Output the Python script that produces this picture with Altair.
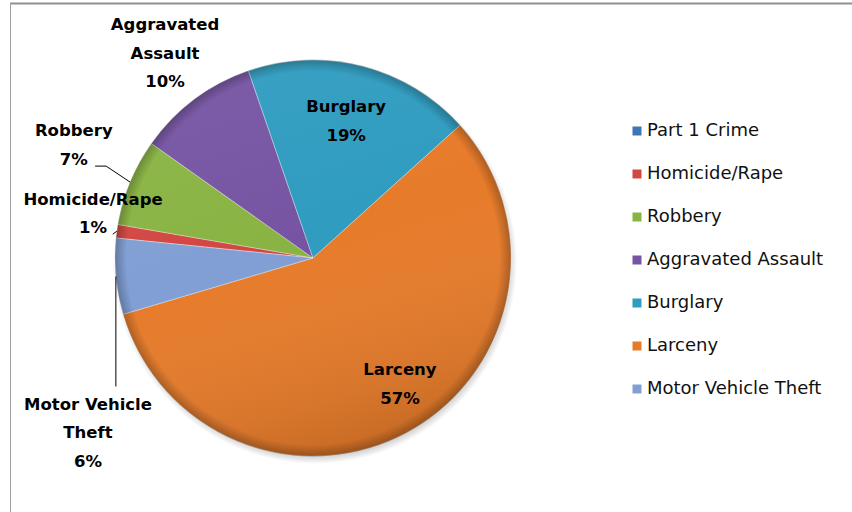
import math
import altair as alt
import pandas as pd

# ---- data ----
CATEGORIES = ["Part 1 Crime", "Homicide/Rape", "Robbery", "Aggravated Assault",
              "Burglary", "Larceny", "Motor Vehicle Theft"]
SHARES = [0.0, 1.1, 7.1, 9.9, 18.6, 57.1, 6.2]          # percent of total
LABEL_TEXT = ["Part 1 Crime", "Homicide/Rape", "Robbery", "Aggravated|Assault",
              "Burglary", "Larceny", "Motor Vehicle|Theft"]
COLORS = ["#3F74B9", "#D34743", "#89B443", "#7654A3", "#2F9CC0", "#E67B2A", "#819FD4"]

df = pd.DataFrame({"category": CATEGORIES, "value": SHARES, "disp": LABEL_TEXT,
                   "idx": list(range(len(CATEGORIES)))})

TOTAL = sum(SHARES)
W, H = 852, 512
CX, CY, R = 313, 258, 198
START = math.radians(275.8)
LH = 28.5
theta_scale = alt.Scale(domain=[0, TOTAL], range=[START, START + 2 * math.pi])

# label placement styles: radius, dx, dy (of the block centre)
LABEL_PLACE = {
    "Homicide/Rape": (222, 0, -14),
    "Robbery": (259, 0, -13),
    "Aggravated Assault": (255, 5, 0),
    "Burglary": (141, -2, 0),
    "Larceny": (145, 16, 0),
    "Motor Vehicle Theft": (226, 0, 154),
}
# leader line segments relative to the slice's outer edge midpoint
LEADERS = {
    "Robbery": [(0, 0, -24, -16), (-24, -16, -35, -16)],
    "Homicide/Rape": [(0, 0, -4, 3)],
    "Motor Vehicle Theft": [(0, 0, 0, 110)],
}

base = alt.Chart(df)


def with_angles(ch):
    return (ch.transform_window(cum="sum(value)", sort=[alt.SortField("idx")])
              .transform_joinaggregate(total="sum(value)")
              .transform_calculate(mid="datum.cum - datum.value/2")
              .transform_calculate(ang=f"{START} + 2*PI*datum.mid/{TOTAL}")
              .transform_calculate(ex=f"{CX} + {R}*sin(datum.ang)",
                                   ey=f"{CY} - {R}*cos(datum.ang)"))


shadow = base.transform_aggregate(total="sum(value)").mark_arc(
    outerRadius=R + 4,
    fill=alt.RadialGradient(gradient="radial", x1=0.5, y1=0.5, x2=0.5, y2=0.5, r1=0, r2=0.5,
                            stops=[alt.GradientStop(offset=0, color="rgba(0,0,0,0.3)"),
                                   alt.GradientStop(offset=0.95, color="rgba(0,0,0,0.22)"),
                                   alt.GradientStop(offset=1, color="rgba(0,0,0,0)")]),
).encode(theta=alt.Theta("total:Q", scale=theta_scale), x=alt.value(CX + 2), y=alt.value(CY + 4))

pie = base.mark_arc(outerRadius=R, stroke="#ffffff", strokeOpacity=0.35, strokeWidth=1).encode(
    theta=alt.Theta("value:Q", stack=True, scale=theta_scale),
    order=alt.Order("idx:Q", sort="ascending"),
    color=alt.Color("category:N", sort=CATEGORIES,
                    scale=alt.Scale(domain=CATEGORIES, range=COLORS),
                    legend=alt.Legend(title=None, orient="none", legendX=628, legendY=122,
                                      symbolType="square", symbolSize=81, symbolStrokeWidth=0,
                                      labelFont="DejaVu Sans", labelFontSize=18, labelColor="#111111",
                                      labelOffset=1, rowPadding=25, padding=0, labelLimit=300)),
    x=alt.value(CX), y=alt.value(CY),
)

shade = base.transform_aggregate(total="sum(value)").mark_arc(
    outerRadius=R,
    fill=alt.LinearGradient(gradient="linear", x1=0.2, y1=0, x2=0.5, y2=1,
                            stops=[alt.GradientStop(offset=0, color="rgba(255,255,255,0.05)"),
                                   alt.GradientStop(offset=0.5, color="rgba(255,255,255,0)"),
                                   alt.GradientStop(offset=1, color="rgba(0,0,0,0.12)")]),
).encode(theta=alt.Theta("total:Q", scale=theta_scale), x=alt.value(CX), y=alt.value(CY))

rim = base.transform_aggregate(total="sum(value)").mark_arc(
    outerRadius=R,
    fill=alt.RadialGradient(gradient="radial", x1=0.5, y1=0.5, x2=0.5, y2=0.5, r1=0, r2=0.5,
                            stops=[alt.GradientStop(offset=0, color="rgba(0,0,0,0)"),
                                   alt.GradientStop(offset=0.94, color="rgba(0,0,0,0)"),
                                   alt.GradientStop(offset=1, color="rgba(0,0,0,0.25)")]),
).encode(theta=alt.Theta("total:Q", scale=theta_scale), x=alt.value(CX), y=alt.value(CY))

layers = [shadow, pie, shade, rim]

for cat, (rad, ddx, ddy) in LABEL_PLACE.items():
    nlines = LABEL_TEXT[CATEGORIES.index(cat)].count("|") + 2
    lab = with_angles(base).transform_filter(alt.datum.category == cat).transform_calculate(
        txt="datum.disp + '|' + format(datum.value/datum.total, '.0%')"
    ).mark_text(radius=rad, dx=ddx, dy=ddy - (nlines - 1) * LH / 2, lineBreak="|", lineHeight=LH,
                font="DejaVu Sans", fontWeight="bold", fontSize=16.5, color="#000000",
                align="center", baseline="middle").encode(
        theta=alt.Theta("mid:Q", stack=None, scale=theta_scale),
        text="txt:N", x=alt.value(CX), y=alt.value(CY))
    layers.append(lab)

for cat, segs in LEADERS.items():
    for (a, b, c, d) in segs:
        seg = with_angles(base).transform_filter(alt.datum.category == cat).transform_calculate(
            lx1=f"datum.ex + ({a})", ly1=f"datum.ey + ({b})",
            lx2=f"datum.ex + ({c})", ly2=f"datum.ey + ({d})",
        ).mark_rule(color="#000000", strokeWidth=1).encode(
            x=alt.X("lx1:Q", scale=None, axis=None), y=alt.Y("ly1:Q", scale=None, axis=None),
            x2="lx2:Q", y2="ly2:Q")
        layers.append(seg)

frame_data = alt.Data(values=[{"k": 1}])
frame_top = alt.Chart(frame_data).mark_rule(color="#8f8f8f", strokeWidth=2).encode(
    x=alt.value(10), x2=alt.value(W), y=alt.value(3.5))
frame_left = alt.Chart(frame_data).mark_rule(color="#a0a0a0", strokeWidth=1).encode(
    x=alt.value(10.5), y=alt.value(3), y2=alt.value(H))
layers += [frame_top, frame_left]

chart = alt.layer(*layers).properties(
    width=W, height=H, padding=0,
    autosize=alt.AutoSizeParams(type="none"),
    background="#ffffff",
).configure_view(stroke=None)

chart.save("out.html", embed_options={"renderer": "svg", "actions": False})
